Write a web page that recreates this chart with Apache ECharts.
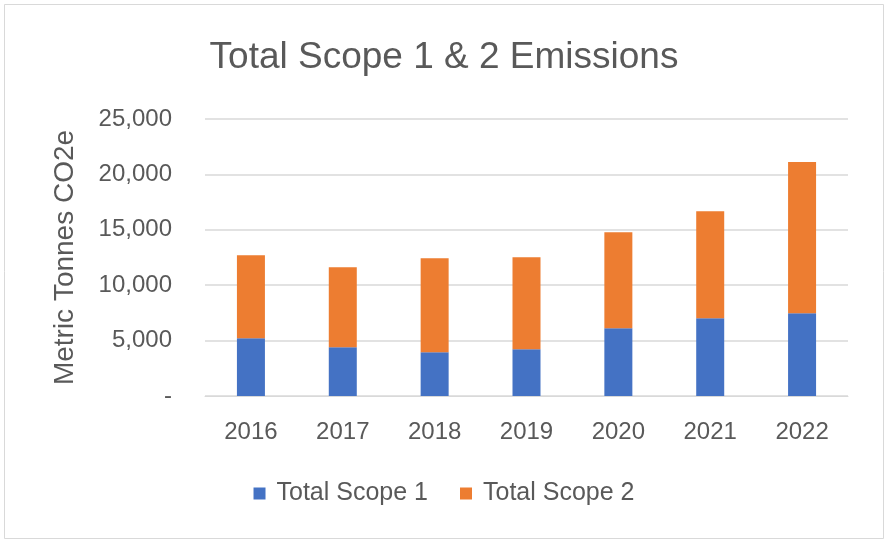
<!DOCTYPE html>
<html>
<head>
<meta charset="utf-8">
<script src="https://cdn.jsdelivr.net/npm/echarts@6/dist/echarts.min.js"></script>
<style>
html,body{margin:0;padding:0;background:#fff;}
#c{width:888px;height:544px;}
</style>
</head>
<body>
<div id="c"></div>
<script>
const years = ['2016','2017','2018','2019','2020','2021','2022'];
const scope1 = [5210, 4400, 3950, 4220, 6120, 7020, 7470];
const scope2 = [7500, 7230, 8490, 8310, 8670, 9660, 13640];
const yTicks = [0, 5000, 10000, 15000, 20000, 25000];

const font = '"Liberation Sans", Arial, sans-serif';
const txt = '#595959';
const chart = echarts.init(document.getElementById('c'), null, {renderer:'canvas'});
chart.setOption({
  animation:false,
  backgroundColor:'#fff',
  title:{
    text:'Total Scope 1 & 2 Emissions',
    left:'center', top:34,
    textStyle:{fontFamily:font, fontSize:37, fontWeight:'normal', color:txt}
  },
  graphic:[{
    type:'rect', shape:{x:4.5,y:4.5,width:879,height:534},
    style:{fill:'none', stroke:'#d9d9d9', lineWidth:1}, silent:true
  }],
  legend:{
    bottom:33, left:'center',
    itemWidth:12, itemHeight:12, itemGap:32,
    icon:'rect',
    textStyle:{fontFamily:font, fontSize:25, color:txt, padding:[0,0,0,6]},
    data:['Total Scope 1','Total Scope 2']
  },
  grid:{left:205, right:40, top:119, bottom:148},
  xAxis:{
    type:'category', data:years,
    axisLine:{lineStyle:{color:'#d9d9d9', width:1}},
    axisTick:{show:false},
    axisLabel:{fontFamily:font, fontSize:24, color:txt, margin:24}
  },
  yAxis:{
    type:'value', min:yTicks[0], max:yTicks[yTicks.length-1], interval:5000,
    name:'Metric Tonnes CO2e', nameLocation:'middle', nameGap:126,
    nameTextStyle:{fontFamily:font, fontSize:28, color:txt},
    axisLine:{show:false}, axisTick:{show:false},
    splitLine:{lineStyle:{color:'#d9d9d9', width:1.5}},
    axisLabel:{fontFamily:font, fontSize:24, color:txt, margin:33,
      formatter:v => v === 0 ? '-' : v.toLocaleString('en-US')}
  },
  series:[
    {name:'Total Scope 1', type:'bar', stack:'t', data:scope1, barWidth:28,
      itemStyle:{color:'#4472C4'}},
    {name:'Total Scope 2', type:'bar', stack:'t', data:scope2, barWidth:28,
      itemStyle:{color:'#ED7D31'}}
  ]
});
</script>
</body>
</html>
